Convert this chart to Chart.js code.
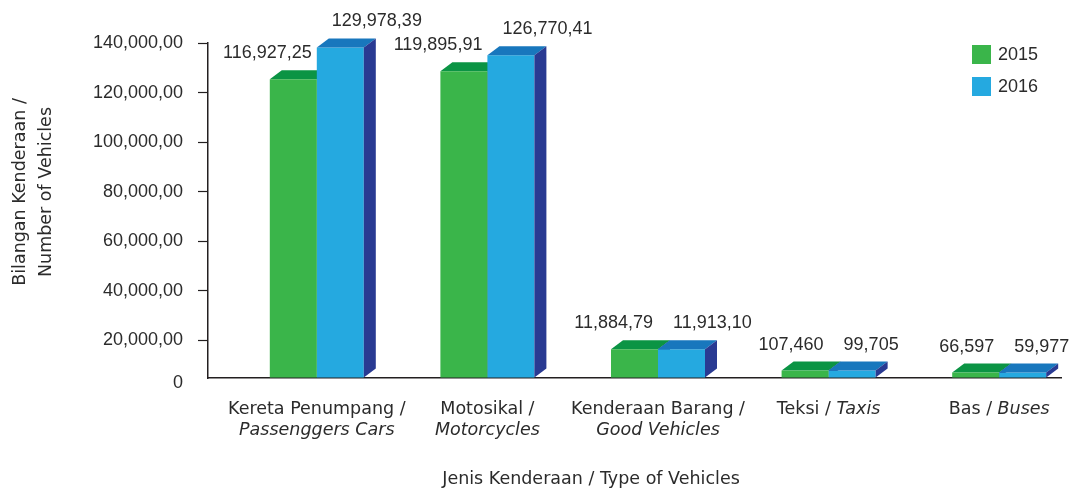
<!DOCTYPE html>
<html>
<head>
<meta charset="utf-8">
<script src="https://cdn.jsdelivr.net/npm/chart.js@4.4.1/dist/chart.umd.min.js"></script>
<style>
html,body{margin:0;padding:0;background:#fff;}
#wrap{width:1082px;height:488px;position:relative;}
</style>
</head>
<body>
<div id="wrap"><canvas id="c"></canvas></div>
<script>
// ---- data ----
const categoriesMalay = ['Kereta Penumpang /', 'Motosikal /', 'Kenderaan Barang /', 'Teksi /', 'Bas /'];
const categoriesEnglish = ['Passenggers Cars', 'Motorcycles', 'Good Vehicles', 'Taxis', 'Buses'];
const englishOnSameLine = [false, false, false, true, true];
const seriesNames = ['2015', '2016'];
// bar heights as drawn in the picture
const values2015 = [125400, 128600, 16400, 7800, 7000];
const values2016 = [138200, 135100, 16400, 7800, 7000];
// value labels as printed on the picture
const valueLabels2015 = ['116,927,25', '119,895,91', '11,884,79', '107,460', '66,597'];
const valueLabels2016 = ['129,978,39', '126,770,41', '11,913,10', '99,705', '59,977'];
const yTickValues = [20000, 40000, 60000, 80000, 100000, 120000, 140000];
const axisFloor = 4800;   // value where the floor of the 3D chart sits (labelled "0")
const floorLabel = '0';
const yMax = 140000;
const yTitleLines = ['Bilangan Kenderaan /', 'Number of Vehicles'];
const xTitle = 'Jenis Kenderaan / Type of Vehicles';

// ---- styles ----
const NUMFONT = "'Liberation Sans', Arial, sans-serif";
const TXTFONT = "'DejaVu Sans', sans-serif";
const TXT = '#2b2b2b';
const green = '#3AB54A', greenTop = '#0B9444';
const blue = '#25A9E0', blueTop = '#1877BD';
const side = '#293A92';
const DX = 12, DY = 9;

function fmt(v){ return v <= axisFloor ? '' : v.toLocaleString('en-US') + ',00'; }

function drawTopSide(ctx, el, topColor, sideColor){
  const p = el.getProps(['x','y','base','width'], true);
  const l = p.x - p.width/2, r = p.x + p.width/2, t = p.y, b = p.base;
  ctx.fillStyle = topColor;
  ctx.beginPath();
  ctx.moveTo(l, t); ctx.lineTo(l+DX, t-DY); ctx.lineTo(r+DX, t-DY); ctx.lineTo(r, t); ctx.closePath();
  ctx.fill();
  ctx.fillStyle = sideColor;
  ctx.beginPath();
  ctx.moveTo(r, t); ctx.lineTo(r+DX, t-DY); ctx.lineTo(r+DX, b-DY); ctx.lineTo(r, b); ctx.closePath();
  ctx.fill();
}

const deco = {
  id: 'deco',
  beforeDatasetsDraw(chart){
    const ctx = chart.ctx;
    ctx.save();
    chart.getDatasetMeta(1).data.forEach(el => drawTopSide(ctx, el, greenTop, side));
    ctx.restore();
  },
  afterDatasetsDraw(chart){
    const ctx = chart.ctx;
    ctx.save();
    chart.getDatasetMeta(2).data.forEach(el => drawTopSide(ctx, el, blueTop, side));
    // value labels
    ctx.fillStyle = TXT;
    ctx.font = '18px ' + NUMFONT;
    ctx.textBaseline = 'middle';
    chart.getDatasetMeta(1).data.forEach((el, i) => {
      const p = el.getProps(['x','y','width'], true);
      ctx.textAlign = 'right';
      ctx.fillText(valueLabels2015[i], p.x + p.width/2 - 5, p.y - 26);
    });
    chart.getDatasetMeta(2).data.forEach((el, i) => {
      const p = el.getProps(['x','y','width'], true);
      ctx.textAlign = 'left';
      ctx.fillText(valueLabels2016[i], p.x - p.width/2 + 15, p.y - 26);
    });
    ctx.restore();
  },
  afterDraw(chart){
    const ctx = chart.ctx;
    const g = chart.getDatasetMeta(1).data;
    const ys = chart.scales.y;
    ctx.save();
    ctx.fillStyle = TXT;
    ctx.textBaseline = 'middle';
    // floor label "0"
    ctx.font = '18px ' + NUMFONT;
    ctx.textAlign = 'right';
    ctx.fillText(floorLabel, ys.right - 25, ys.getPixelForValue(axisFloor) + 5);
    const fs = '17.5px ';
    // category labels
    categoriesMalay.forEach((m, i) => {
      const cx = (g[i].x + g[i].width/2);
      if (englishOnSameLine[i]) {
        ctx.font = fs + TXTFONT;
        const w1 = ctx.measureText(m + ' ').width;
        ctx.font = 'italic ' + fs + TXTFONT;
        const w2 = ctx.measureText(categoriesEnglish[i]).width;
        const x0 = cx - (w1 + w2)/2;
        ctx.textAlign = 'left';
        ctx.font = fs + TXTFONT;
        ctx.fillText(m + ' ', x0, 409);
        ctx.font = 'italic ' + fs + TXTFONT;
        ctx.fillText(categoriesEnglish[i], x0 + w1, 409);
      } else {
        ctx.textAlign = 'center';
        ctx.font = fs + TXTFONT;
        ctx.fillText(m, cx, 409);
        ctx.font = 'italic ' + fs + TXTFONT;
        ctx.fillText(categoriesEnglish[i], cx, 430);
      }
    });
    // x title
    ctx.font = fs + TXTFONT;
    ctx.textAlign = 'center';
    ctx.fillText(xTitle, 591, 479);
    // y title
    ctx.save();
    ctx.translate(20, 192);
    ctx.rotate(-Math.PI/2);
    ctx.fillText(yTitleLines[0], 0, 0);
    ctx.fillText(yTitleLines[1], 0, 26);
    ctx.restore();
    // legend
    ctx.textAlign = 'left';
    ctx.font = '18px ' + NUMFONT;
    [[green, seriesNames[0], 45], [blue, seriesNames[1], 77]].forEach(([c, t, y]) => {
      ctx.fillStyle = c;
      ctx.fillRect(972, y, 19, 19);
      ctx.fillStyle = TXT;
      ctx.fillText(t, 998, y + 10);
    });
    ctx.restore();
  }
};

new Chart(document.getElementById('c'), {
  type: 'bar',
  data: {
    labels: categoriesMalay.map((m, i) => m + ' ' + categoriesEnglish[i]),
    datasets: [
      { label: '', data: categoriesMalay.map(() => null), backgroundColor: 'rgba(0,0,0,0)', base: axisFloor },
      { label: seriesNames[0], data: values2015, backgroundColor: green, base: axisFloor },
      { label: seriesNames[1], data: values2016, backgroundColor: blue, base: axisFloor }
    ]
  },
  options: {
    responsive: true,
    maintainAspectRatio: false,
    animation: false,
    events: [],
    categoryPercentage: 0.8265,
    barPercentage: 1.0,
    layout: { padding: { top: 43, right: 21, left: 0, bottom: 0 } },
    plugins: { legend: { display: false }, tooltip: { enabled: false } },
    scales: {
      x: {
        grid: { display: false, drawTicks: false },
        border: { display: true, color: '#231F20', width: 1.5 },
        ticks: { display: false },
        afterFit(s){ s.height = 110; }
      },
      y: {
        min: axisFloor,
        max: yMax,
        afterBuildTicks(s){ s.ticks = [axisFloor].concat(yTickValues).map(v => ({ value: v })); },
        grid: {
          drawOnChartArea: false,
          tickLength: 10,
          tickColor: ctx => (ctx.tick && ctx.tick.value === axisFloor) ? 'rgba(0,0,0,0)' : '#231F20',
          tickWidth: 1.2
        },
        border: { display: true, color: '#231F20', width: 1.5 },
        ticks: {
          padding: 15,
          color: TXT,
          font: { family: NUMFONT, size: 18 },
          callback: v => fmt(v)
        },
        afterFit(s){ s.width = 208; }
      }
    }
  },
  plugins: [deco]
});
</script>
</body>
</html>
